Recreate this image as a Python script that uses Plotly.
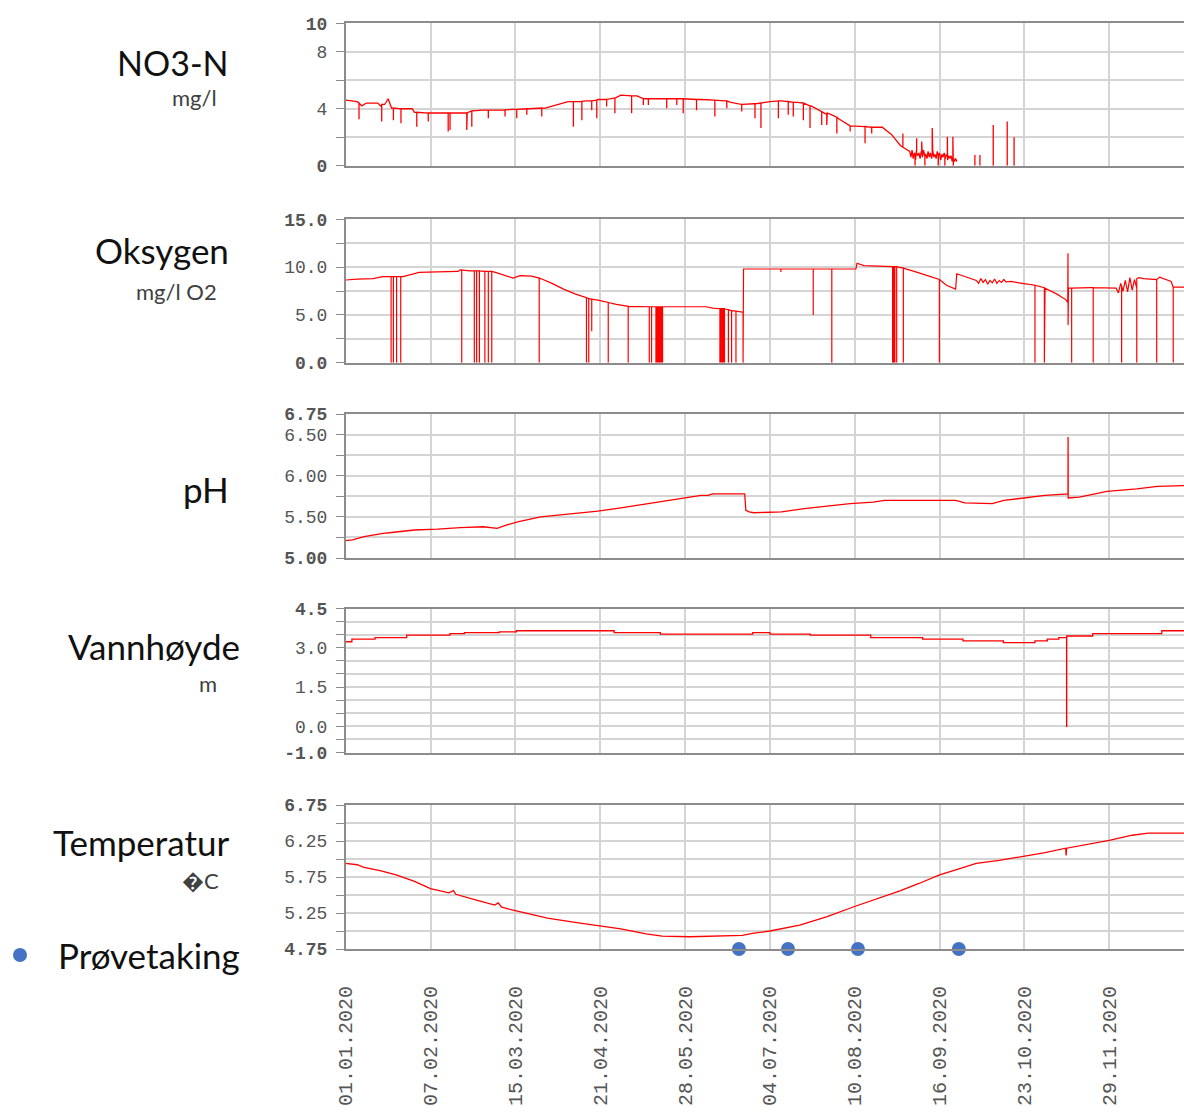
import pandas as pd
import plotly.graph_objects as go

# figure fills the whole 1184x1112 window (body margin removed via post_script)
OFF = 0
W, H = 1184, 1112
START = pd.Timestamp("2020-01-01")

# ---------------- data (day offset from 01.01.2020, value) ----------------
# NO3-N  (mg/l)
no3_day = [0, 3, 5, 7, 9, 14, 15.5, 17, 18.5, 20, 29, 30, 44, 53, 55, 60, 73, 80, 87, 92, 97, 105,
           110, 117, 120, 127, 130, 155, 165, 168, 173, 178, 185, 190, 197, 203, 210, 215, 220, 234,
           238, 242, 246]
no3_val = [4.6, 4.55, 4.5, 4.2, 4.4, 4.4, 4.15, 4.3, 4.7, 4.05, 4.0, 3.75, 3.7, 3.72, 3.85, 3.9, 3.95,
           4.0, 4.05, 4.3, 4.5, 4.55, 4.65, 4.75, 4.95, 4.9, 4.7, 4.65, 4.55, 4.45, 4.3, 4.35, 4.5,
           4.55, 4.45, 4.2, 3.7, 3.3, 2.8, 2.7, 2.2, 1.4, 1.0]
no3_band_day = [246.5, 247, 247.5, 248, 248.5, 249, 249.5, 250, 250.5, 251, 251.5, 252, 252.5, 253,
                253.5, 254, 254.5, 255, 255.5, 256, 256.5, 257, 257.5, 258, 258.5, 259, 259.5, 260,
                260.5, 261, 261.5, 262, 262.5, 263, 263.5, 264, 264.5, 265, 265.5, 266, 266.5]
no3_band_val = [0.6, 1.1, 0.5, 0.9, 0.4, 1.2, 0.7, 0.9, 0.5, 1.0, 0.6, 1.1, 0.7, 0.8, 0.5, 1.0, 0.6,
                0.9, 0.5, 1.1, 0.6, 0.8, 0.5, 1.0, 0.7, 0.9, 0.4, 0.8, 0.6, 0.9, 0.5, 0.8, 0.4, 0.7,
                0.5, 0.7, 0.3, 0.6, 0.3, 0.5, 0.3]
no3_spike_day = [5.8, 15.7, 20.8, 24.1, 31, 36, 44.7, 45.5, 52.8, 55, 62.2, 69.5, 74.6, 79, 85.5,
                 99.3, 103, 107.3, 109.5, 113.8, 117.4, 124.7, 129.8, 132, 140, 144.4, 147.2, 153,
                 161, 166.2, 172.7, 178.5, 181.1, 188.7, 193, 195.2, 199.6, 202.5, 207.6, 209.8,
                 214.2, 220, 226.5, 229.4, 243, 248.3, 249, 251.2, 252.6, 255.8, 258.4, 261.3,
                 262.4, 264.8, 265]
no3_spike_base = [4.4, 4.3, 4.05, 4.0, 3.75, 3.7, 3.7, 3.7, 3.72, 3.85, 3.9, 3.92, 3.95, 4.0, 4.05,
                  4.5, 4.52, 4.55, 4.6, 4.65, 4.75, 4.9, 4.7, 4.7, 4.7, 4.7, 4.7, 4.65, 4.6, 4.55,
                  4.3, 4.35, 4.4, 4.55, 4.5, 4.45, 4.4, 4.2, 3.8, 3.6, 3.4, 2.8, 2.75, 2.7, 1.3,
                  0.8, 0.9, 0.8, 0.8, 0.8, 0.7, 0.7, 0.7, 0.6, 0.5]
no3_spike_tip = [3.26, 3.1, 3.2, 2.98, 2.74, 3.1, 2.4, 2.5, 2.5, 2.74, 3.33, 3.45, 3.33, 3.57, 3.45,
                 2.74, 3.2, 3.9, 3.33, 4.15, 3.68, 3.68, 4.27, 4.27, 4.03, 4.27, 3.68, 3.9, 3.45,
                 4.03, 3.8, 3.33, 2.64, 3.33, 3.57, 3.45, 3.2, 2.64, 2.86, 2.86, 2.27, 2.4, 1.57,
                 2.27, 2.27, 0.0, 1.92, 1.7, 0.0, 2.64, 0.0, 0.0, 2.04, 2.04, 0.0]
no3_late_day = [274.4, 276.6, 282.4, 288.5, 291.5]
no3_late_tip = [0.75, 0.75, 2.85, 3.1, 2.0]

# Oksygen (mg/l O2)
oxy_day = [0, 5, 12, 16, 25, 28, 32, 40, 49, 50, 54, 62, 66, 70, 73, 76, 81, 85, 90, 95, 100, 105,
           110, 114, 118, 122, 157, 160, 165, 168, 173, 173.5, 222.5, 223, 226, 241, 250, 258, 262,
           266, 266.5, 270, 275, 276, 277, 278, 279, 280, 281, 282, 283, 284, 285, 286, 287, 288,
           290, 295, 300, 305, 310, 314, 314.9, 315.0, 315.05, 315.1, 315.2, 325, 336, 337, 338,
           339, 340, 341, 342, 343, 344, 345, 346, 348, 355, 360, 365.6]
oxy_val = [8.65, 8.75, 8.8, 9.0, 9.0, 9.2, 9.45, 9.5, 9.55, 9.7, 9.6, 9.55, 9.4, 9.05, 8.85, 9.1,
           9.05, 8.8, 8.3, 7.7, 7.2, 6.8, 6.55, 6.3, 6.1, 5.9, 5.85, 5.7, 5.65, 5.45, 5.3, 9.8, 9.8,
           10.4, 10.15, 10.0, 9.4, 8.7, 8.1, 7.7, 9.3, 9.0, 8.6, 8.3, 8.8, 8.4, 8.7, 8.2, 8.6, 8.35,
           8.75, 8.3, 8.6, 8.4, 8.7, 8.45, 8.5, 8.3, 8.1, 7.8, 7.2, 6.6, 6.3, 11.45, 3.95, 6.3, 7.8,
           7.85, 7.8, 7.3, 8.3, 7.5, 8.6, 7.4, 8.9, 7.6, 8.7, 7.8, 8.9, 8.8, 8.95, 8.5, 7.9, 7.1]
oxy_spike_day = [19.8, 20.8, 22.2, 24, 50.6, 56.1, 57.1, 58.3, 60.7, 62.2, 63.7, 84.4, 105, 106,
                 107.3, 114.5, 123.2, 132.4, 133.4, 135.3, 135.8, 136.3, 136.8, 137.3, 137.8,
                 138.2, 163.2, 163.7, 164.2, 164.7, 165.2, 166.9, 168.3, 170.2, 173.3, 189.8,
                 203.9, 212, 238.5, 239, 239.5, 240.3, 243.2, 258.9, 300.6, 304.7, 316.6, 326,
                 338.4, 345, 353.7, 360.9]
oxy_spike_base = [9.0, 9.0, 9.0, 9.0, 9.7, 9.6, 9.6, 9.6, 9.55, 9.55, 9.55, 8.85, 6.8, 6.7, 6.65,
                  6.3, 5.9, 5.85, 5.85, 5.85, 5.85, 5.85, 5.85, 5.85, 5.85, 5.85, 5.65, 5.65, 5.65,
                  5.65, 5.65, 5.55, 5.45, 5.4, 5.3, 9.8, 9.8, 9.8, 10.05, 10.05, 10.05, 10.05, 9.9,
                  8.7, 8.1, 7.85, 7.8, 7.85, 8.0, 8.8, 8.7, 7.9]
oxy_spike_tip = [0, 0, 0, 0, 0, 0, 0, 0, 0, 0, 0, 0, 0, 0, 3.3, 0, 0, 0, 0, 0, 0, 0, 0, 0, 0, 0,
                 0, 0, 0, 0, 0, 0, 0, 0, 0, 9.5, 5.0, 0, 0, 0, 0, 0, 0, 0, 0, 0, 0, 0, 0, 0, 0, 0]

# pH
ph_day = [0, 3, 8, 14, 16.4, 20, 30, 40, 50, 60, 64, 66, 70, 75, 85, 95, 110, 120, 131, 145, 155,
          158, 160, 174, 174.5, 176, 178, 190, 200, 210, 220, 230, 235, 266, 270, 282, 287, 293,
          305, 315, 315.05, 315.1, 320, 332, 345, 354, 365.6]
ph_val = [5.21, 5.22, 5.26, 5.29, 5.30, 5.31, 5.34, 5.35, 5.37, 5.38, 5.37, 5.36, 5.40, 5.44, 5.50,
          5.53, 5.57, 5.61, 5.66, 5.72, 5.76, 5.76, 5.78, 5.78, 5.58, 5.56, 5.55, 5.56, 5.60, 5.63,
          5.66, 5.68, 5.70, 5.70, 5.67, 5.66, 5.70, 5.72, 5.76, 5.78, 6.47, 5.73, 5.74, 5.81, 5.84,
          5.87, 5.88]

# Vannhøyde (m) - step series
lvl_day = [0, 2.7, 12.8, 26.6, 45.5, 51.8, 66.9, 74.4, 117.1, 137.2, 177.5, 185, 202.6, 229, 251.6,
           269.2, 286.8, 300.6, 306, 311, 314.4, 314.45, 325.8, 355.9, 365.6]
lvl_val = [3.23, 3.33, 3.39, 3.48, 3.54, 3.58, 3.61, 3.65, 3.58, 3.52, 3.58, 3.52, 3.48, 3.39, 3.33,
           3.26, 3.2, 3.26, 3.33, 3.39, 0.0, 3.45, 3.54, 3.65, 3.65]

# Temperatur (°C)
tmp_day = [0, 3, 5, 8, 15, 22, 30, 37, 45, 47, 48, 57, 65, 66.5, 68, 73, 80, 88, 100, 110, 120,
           131, 138, 150, 167, 173, 178, 185, 198, 210, 221, 232, 242, 250, 259, 265, 275, 285,
           295, 305, 314, 314.2, 314.4, 325, 333, 343, 350, 365.6]
tmp_val = [5.94, 5.93, 5.92, 5.885, 5.84, 5.78, 5.69, 5.59, 5.53, 5.56, 5.51, 5.43, 5.36, 5.39,
           5.33, 5.29, 5.24, 5.18, 5.12, 5.08, 5.03, 4.96, 4.93, 4.92, 4.93, 4.94, 4.97, 5.0, 5.08,
           5.20, 5.33, 5.45, 5.56, 5.66, 5.78, 5.84, 5.94, 5.98, 6.03, 6.09, 6.15, 6.05, 6.15, 6.21,
           6.26, 6.33, 6.36, 6.36]

# Prøvetaking (sampling days)
sample_day = [171.5, 192.9, 223.4, 267.4]

# x tick labels
xtick_day = [0, 37, 74, 111, 148, 185, 222, 259, 296, 333]
xtick_text = ["01.01.2020", "07.02.2020", "15.03.2020", "21.04.2020", "28.05.2020",
              "04.07.2020", "10.08.2020", "16.09.2020", "23.10.2020", "29.11.2020"]

# y axes: grid values and labels
no3_grid = [0, 2, 4, 6, 8, 10]
no3_lab = ["<b>0</b>", "", "4", "", "8", "<b>10</b>"]
oxy_grid = [0, 2.5, 5, 7.5, 10, 12.5, 15]
oxy_lab = ["<b>0.0</b>", "", "5.0", "", "10.0", "", "<b>15.0</b>"]
ph_grid = [5.0, 5.25, 5.5, 5.75, 6.0, 6.25, 6.5, 6.75]
ph_lab = ["<b>5.00</b>", "", "5.50", "", "6.00", "", "6.50", "<b>6.75</b>"]
lvl_grid = [-1.0, -0.5, 0.0, 0.5, 1.0, 1.5, 2.0, 2.5, 3.0, 3.5, 4.0, 4.5]
lvl_lab = ["<b>-1.0</b>", "", "0.0", "", "", "1.5", "", "", "3.0", "", "", "<b>4.5</b>"]
tmp_grid = [4.75, 5.0, 5.25, 5.5, 5.75, 6.0, 6.25, 6.5, 6.75]
tmp_lab = ["<b>4.75</b>", "", "5.25", "", "5.75", "", "6.25", "", "<b>6.75</b>"]


def to_dates(days):
    return [START + pd.Timedelta(days=float(d)) for d in days]


def merge_with_spikes(days, vals, sdays, sbase, stip, extra_days=(), extra_vals=()):
    pts = [(d, 0, v) for d, v in zip(days, vals)]
    pts += [(d, 0, v) for d, v in zip(extra_days, extra_vals)]
    for d, b, t in zip(sdays, sbase, stip):
        pts += [(d, 0, b), (d, 1, t), (d, 2, b)]
    pts.sort(key=lambda p: (p[0], p[1]))
    return to_dates([p[0] for p in pts]), [p[2] for p in pts]


RED = "#ff0000"
GRID = "#d4d4d4"
AX = "#8c8c8c"
fig = go.Figure()

x1, y1 = merge_with_spikes(no3_day, no3_val, no3_spike_day, no3_spike_base, no3_spike_tip,
                           no3_band_day, no3_band_val)
fig.add_trace(go.Scatter(x=x1, y=y1, mode="lines", line=dict(color=RED, width=1.3),
                         xaxis="x", yaxis="y"))
lx, ly = [], []
for d, t in zip(no3_late_day, no3_late_tip):
    lx += [START + pd.Timedelta(days=d)] * 2 + [None]
    ly += [0, t, None]
fig.add_trace(go.Scatter(x=lx, y=ly, mode="lines", line=dict(color=RED, width=1.3),
                         xaxis="x", yaxis="y"))

x2, y2 = merge_with_spikes(oxy_day, oxy_val, oxy_spike_day, oxy_spike_base, oxy_spike_tip)
fig.add_trace(go.Scatter(x=x2, y=y2, mode="lines", line=dict(color=RED, width=1.2),
                         xaxis="x2", yaxis="y2"))

fig.add_trace(go.Scatter(x=to_dates(ph_day), y=ph_val, mode="lines",
                         line=dict(color=RED, width=1.3), xaxis="x3", yaxis="y3"))
fig.add_trace(go.Scatter(x=to_dates(lvl_day), y=lvl_val, mode="lines",
                         line=dict(color=RED, width=1.3, shape="hv"), xaxis="x4", yaxis="y4"))
fig.add_trace(go.Scatter(x=to_dates(tmp_day), y=tmp_val, mode="lines",
                         line=dict(color=RED, width=1.3), xaxis="x5", yaxis="y5"))
fig.add_trace(go.Scatter(x=to_dates(sample_day), y=[tmp_grid[0]] * len(sample_day),
                         mode="markers", marker=dict(color="#4472C4", size=14),
                         cliponaxis=False, xaxis="x5", yaxis="y5"))


def px(p):
    return (p - OFF) / W


def py(p):
    return 1 - (p - OFF) / H


XDOM = [px(345.7), 1.0]
XR = [START, START + pd.Timedelta(days=365.6)]
panels = [  # (top px, bottom px, grid, labels) in reference pixels
    (23.3, 165.7, no3_grid, no3_lab),
    (219.3, 362.7, oxy_grid, oxy_lab),
    (414, 558, ph_grid, ph_lab),
    (608.5, 752.5, lvl_grid, lvl_lab),
    (805, 949, tmp_grid, tmp_lab),
]
layout = {}
tick_font = dict(family="Liberation Mono", size=18, color="#555555")
for i, (top, bot, grid, lab) in enumerate(panels):
    sfx = "" if i == 0 else str(i + 1)
    last = i == len(panels) - 1
    layout["xaxis" + sfx] = dict(
        type="date", domain=XDOM, range=XR, anchor="y" + sfx,
        tickvals=to_dates(xtick_day), ticktext=xtick_text,
        showticklabels=last, tickangle=-90, ticks="outside" if last else "",
        ticklen=27, tickcolor="rgba(0,0,0,0)",
        tickfont=dict(family="Liberation Mono", size=20, color="#555555"),
        showgrid=True, gridcolor=GRID, gridwidth=1.5,
        showline=True, mirror=True, linecolor=AX, linewidth=2,
        zeroline=False, automargin=False, fixedrange=True,
    )
    layout["yaxis" + sfx] = dict(
        domain=[py(bot), py(top)], range=[grid[0], grid[-1]], anchor="x" + sfx,
        tickvals=grid, ticktext=lab, tickfont=tick_font,
        ticks="outside", ticklen=8, tickcolor=AX, tickwidth=1, ticklabelstandoff=5,
        showgrid=True, gridcolor=GRID, gridwidth=1.5,
        showline=True, linecolor=AX, linewidth=1.5,
        zeroline=False, automargin=False, fixedrange=True,
    )

TF = "Lato"
ann = []


def label(text, xr, yc, size, color="#111111"):
    ann.append(dict(text=text, x=px(xr), y=py(yc), xref="paper", yref="paper",
                    xanchor="right", yanchor="middle", showarrow=False,
                    font=dict(family=TF, size=size, color=color)))


label("NO3-N", 231, 63, 34)
label("mg/l", 219, 97, 22, "#404040")
label("Oksygen", 231, 250, 35)
label("mg/l O2", 219, 292, 22, "#404040")
label("pH", 231, 489, 35)
label("Vannhøyde", 242, 646, 35)
label("m", 219, 683, 22, "#404040")
label("Temperatur", 231, 842, 35)
label("\ufffdC", 221, 880, 22, "#404040")
label("Prøvetaking", 242, 955, 35)

fig.update_layout(
    width=W, height=H, template="none", showlegend=False,
    margin=dict(l=0, r=0, t=0, b=0, pad=0),
    paper_bgcolor="white", plot_bgcolor="white",
    annotations=ann,
    shapes=[dict(type="circle", xref="paper", yref="paper", x0=px(13), x1=px(27),
                 y0=py(962), y1=py(948), fillcolor="#4472C4", line=dict(width=0))],
    **layout,
)
fig.write_html("out.html", config={"displayModeBar": False},
               post_script="document.body.style.margin='0';document.body.style.overflow='hidden';")
